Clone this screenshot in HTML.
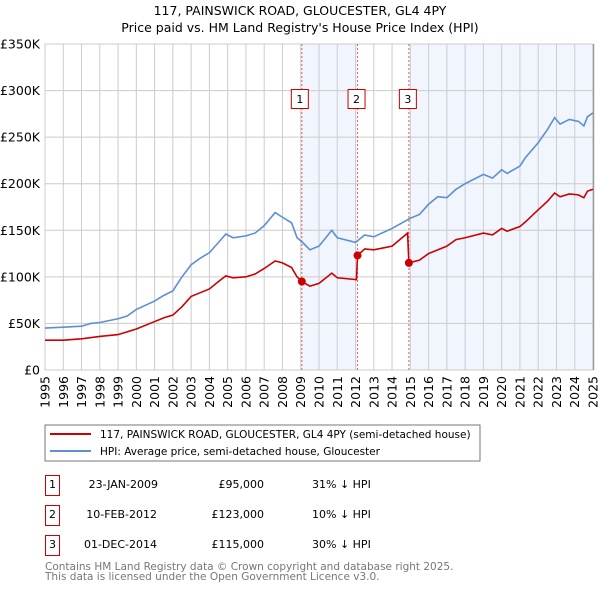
<!DOCTYPE html>
<html><head><meta charset="utf-8"><style>
body{margin:0;background:#fff;font-family:"Liberation Sans","DejaVu Sans",sans-serif}
svg text{font-family:"DejaVu Sans","Liberation Sans",sans-serif}
</style></head><body>
<svg id="c" width="600" height="590" xmlns="http://www.w3.org/2000/svg">
<text x="300" y="15" text-anchor="middle" font-size="12.5" fill="#000">117, PAINSWICK ROAD, GLOUCESTER, GL4 4PY</text>
<text x="300" y="32" text-anchor="middle" font-size="12.5" fill="#000">Price paid vs. HM Land Registry's House Price Index (HPI)</text>
<g id="plot"></g>
<rect x="45" y="425" width="435" height="36" fill="#fff" stroke="#777"/>
<line x1="50" y1="434" x2="91" y2="434" stroke="#cc0000" stroke-width="2"/>
<text x="100" y="438" font-size="10.5">117, PAINSWICK ROAD, GLOUCESTER, GL4 4PY (semi-detached house)</text>
<line x1="50" y1="451" x2="91" y2="451" stroke="#5b8fd6" stroke-width="2"/>
<text x="100" y="455" font-size="10.5">HPI: Average price, semi-detached house, Gloucester</text>
<g font-size="11">
<rect x="45.5" y="475.5" width="14" height="20" fill="none" stroke="#cc0000"/><text x="52.5" y="488" text-anchor="middle">1</text>
<text x="158" y="488" text-anchor="end">23-JAN-2009</text>
<text x="264" y="488" text-anchor="end">£95,000</text>
<text x="312" y="488">31% ↓ HPI</text>
<rect x="45.5" y="505.5" width="14" height="20" fill="none" stroke="#cc0000"/><text x="52.5" y="518" text-anchor="middle">2</text>
<text x="157" y="518" text-anchor="end">10-FEB-2012</text>
<text x="264" y="518" text-anchor="end">£123,000</text>
<text x="312" y="518">10% ↓ HPI</text>
<rect x="45.5" y="535.5" width="14" height="20" fill="none" stroke="#cc0000"/><text x="52.5" y="548" text-anchor="middle">3</text>
<text x="157" y="548" text-anchor="end">01-DEC-2014</text>
<text x="264" y="548" text-anchor="end">£115,000</text>
<text x="312" y="548">30% ↓ HPI</text>
</g>
<text x="45" y="570" font-size="10.5" fill="#777">Contains HM Land Registry data © Crown copyright and database right 2025.</text>
<text x="45" y="580" font-size="10.5" fill="#777">This data is licensed under the Open Government Licence v3.0.</text>
</svg>
<script>
const hpiYears=[1995,1996,1997,1997.5,1998,1999,1999.5,2000,2001,2001.5,2002,2002.5,2003,2003.5,2004,2004.5,2004.9,2005.3,2006,2006.5,2007,2007.6,2008,2008.5,2008.8,2009.1,2009.5,2010,2010.7,2011,2012,2012.5,2013,2014,2015,2015.5,2016,2016.5,2017,2017.5,2018,2019,2019.5,2020,2020.3,2021,2021.3,2022,2022.5,2022.9,2023.2,2023.7,2024.2,2024.5,2024.7,2025];
const hpiValues=[45,46,47,50,51,55,58,65,74,80,85,100,113,120,126,137,146,142,144,147,155,169,164,158,142,137,129,133,150,142,137,145,143,152,163,167,178,186,185,194,200,210,206,215,211,219,228,244,258,271,264,269,267,262,272,276];
const priceYears=[1995,1996,1997,1998,1999,2000,2001,2001.5,2002,2002.5,2003,2003.5,2004,2004.5,2004.9,2005.3,2006,2006.5,2007,2007.6,2008,2008.5,2008.8,2009.06,2009.5,2010,2010.7,2011,2012.05,2012.11,2012.5,2013,2014,2014.85,2014.92,2015.5,2016,2016.5,2017,2017.5,2018,2019,2019.5,2020,2020.3,2021,2021.3,2022,2022.5,2022.9,2023.2,2023.7,2024.2,2024.5,2024.7,2025];
const priceValues=[32,32,33.5,36,38,44,52,56,59,68,79,83,87,95,101,99,100,103,109,117,115,110,100,95,90,93,104,99,97,123,130,129,133,147,115,118,125,129,133,140,142,147,145,152,149,154,159,172,181,190,186,189,188,185,192,194];
const saleYears=[2009.06,2012.11,2014.92];
const salePrices=[95,123,115];
const saleLabels=["1","2","3"];
const yTicks=[0,50,100,150,200,250,300,350];
const yTickLabels=["£0","£50K","£100K","£150K","£200K","£250K","£300K","£350K"];
const xTicks=[1995,1996,1997,1998,1999,2000,2001,2002,2003,2004,2005,2006,2007,2008,2009,2010,2011,2012,2013,2014,2015,2016,2017,2018,2019,2020,2021,2022,2023,2024,2025];

const NS="http://www.w3.org/2000/svg";
const X0=45,X1=593,Y0=370,Y1=44;
const sx=y=>X0+(y-1995)/(2025-1995)*(X1-X0);
const sy=v=>Y0-v/350*(Y0-Y1);
const g=document.getElementById('plot');
function mk(t,a){const e=document.createElementNS(NS,t);for(const k in a)e.setAttribute(k,a[k]);g.appendChild(e);return e;}
let s1=mk('rect',{x:sx(saleYears[0]),y:Y1,width:sx(saleYears[1])-sx(saleYears[0]),height:Y0-Y1,fill:'#eef2fc',opacity:0.8});


let s2=mk('rect',{x:sx(saleYears[2]),y:Y1,width:X1-sx(saleYears[2]),height:Y0-Y1,fill:'#eef2fc',opacity:0.8});


yTicks.forEach((v,i)=>{
  const l=mk('line',{x1:X0,x2:X1,y1:sy(v),y2:sy(v),stroke:'#cccccc'});
  
  
  const t=mk('text',{x:40,y:sy(v)+4.5,'text-anchor':'end','font-size':12.5});
  t.textContent=yTickLabels[i];
  
  
});
xTicks.forEach(y=>{
  const l=mk('line',{x1:sx(y),x2:sx(y),y1:Y1,y2:Y0,stroke:'#cccccc'});
  
  
  const t=mk('text',{x:0,y:0,'text-anchor':'end','font-size':12.5,transform:`translate(${sx(y)+4.5},376) rotate(-90)`});
  t.textContent=y;
  
  
});
const fr=mk('rect',{x:X0,y:Y1,width:X1-X0,height:Y0-Y1,fill:'none',stroke:'#cccccc'});


const rb=mk('line',{x1:X1+0.5,x2:X1+0.5,y1:Y1,y2:Y0,stroke:'#999',"stroke-width":1.5});


saleYears.forEach((y,i)=>{
  const l=mk('line',{x1:sx(y),x2:sx(y),y1:Y1,y2:Y0,stroke:'#e06060','stroke-dasharray':'2,2'});
  
  
  const r=mk('rect',{x:sx(y)-9.5+(i==0?-1:0),y:89.5,width:17,height:19,fill:'#fff',stroke:'#cc0000'});
  
  
  const t=mk('text',{x:sx(y)-1+(i==0?-1:0),y:103,'text-anchor':'middle','font-size':11});
  t.textContent=saleLabels[i];
  
  
});
const hp=mk('polyline',{points:hpiYears.map((y,i)=>sx(y)+','+sy(hpiValues[i])).join(' '),fill:'none',stroke:'#5b8fd6','stroke-width':1.6});


const pp=mk('polyline',{points:priceYears.map((y,i)=>sx(y)+','+sy(priceValues[i])).join(' '),fill:'none',stroke:'#cc0000','stroke-width':1.6});


saleYears.forEach((y,i)=>{
  const c=mk('circle',{cx:sx(y),cy:sy(salePrices[i]),r:4,fill:'#cc0000'});
  
  
});
</script>
</body></html>
